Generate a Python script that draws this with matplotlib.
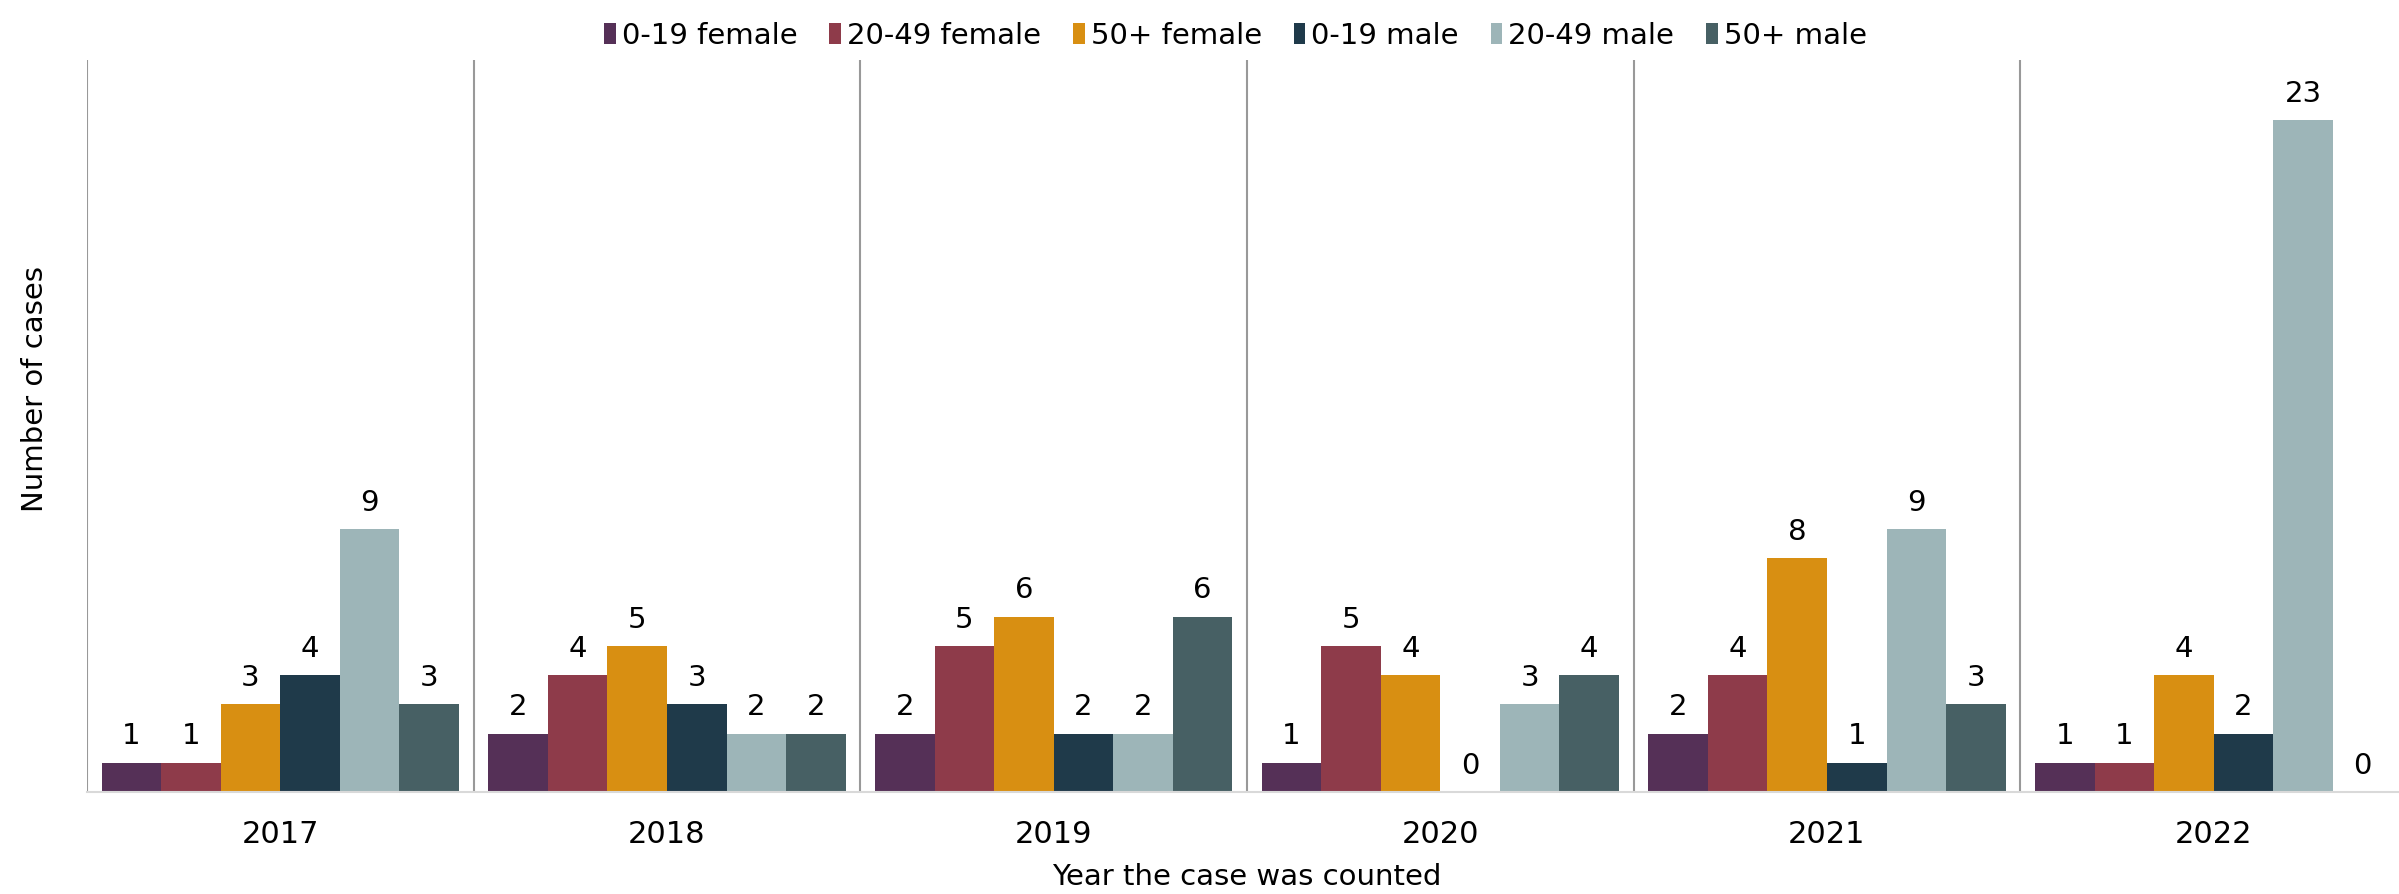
import numpy as np
import matplotlib.pyplot as plt

# Daten
years = ['2017', '2018', '2019', '2020', '2021', '2022']
groups = ['0-19 female', '20-49 female', '50+ female', '0-19 male', '20-49 male', '50+ male']
f_0_19 = [1, 2, 2, 1, 2, 1]
f_20_49 = [1, 4, 5, 5, 4, 1]
f_50 = [3, 5, 6, 4, 8, 4]
m_0_19 = [4, 3, 2, 0, 1, 2]
m_20_49 = [9, 2, 2, 3, 9, 23]
m_50 = [3, 2, 6, 4, 3, 0]
series = [f_0_19, f_20_49, f_50, m_0_19, m_20_49, m_50]
colors = ['#553057', '#8e3b4a', '#d88f12', '#1f3a4a', '#9db5b8', '#476064']

fig = plt.figure(figsize=(23.99, 8.94), dpi=100)
ax = fig.add_axes([87 / 2399, 102 / 894, 2320 / 2399, 732 / 894])

x = np.arange(len(years))
w = 0.154
for j, (vals, col, name) in enumerate(zip(series, colors, groups)):
    bars = ax.bar(x + (j - 2.5) * w, vals, w, color=col, label=name)
    ax.bar_label(bars, padding=9, fontsize=21)

# Trennlinien zwischen den Jahren
for i in range(len(years)):
    ax.axvline(i - 0.5, color='#999999', lw=1.5, zorder=0)

ax.set_xlim(-0.5, 5.5)
ax.set_ylim(0, 25.07)
ax.set_xticks(x)
ax.set_xticklabels(years, fontsize=22)
ax.tick_params(axis='x', length=0, pad=20)
ax.set_yticks([])
for s in ['top', 'right', 'left']:
    ax.spines[s].set_visible(False)
ax.spines['bottom'].set_color('#d9d9d9')
ax.spines['bottom'].set_linewidth(1.5)

ax.set_xlabel('Year the case was counted', fontsize=21)
ax.xaxis.set_label_coords(0.5, -0.097)
ax.set_ylabel('Number of cases', fontsize=21)
ax.yaxis.set_label_coords(-0.0165, 0.55)

fig.legend(loc='upper center', bbox_to_anchor=(0.515, 1.005), ncol=6, frameon=False,
           prop={'size': 21},
           handlelength=0.4, handletextpad=0.2, columnspacing=1.1)

fig.savefig('out.png', dpi=100)
